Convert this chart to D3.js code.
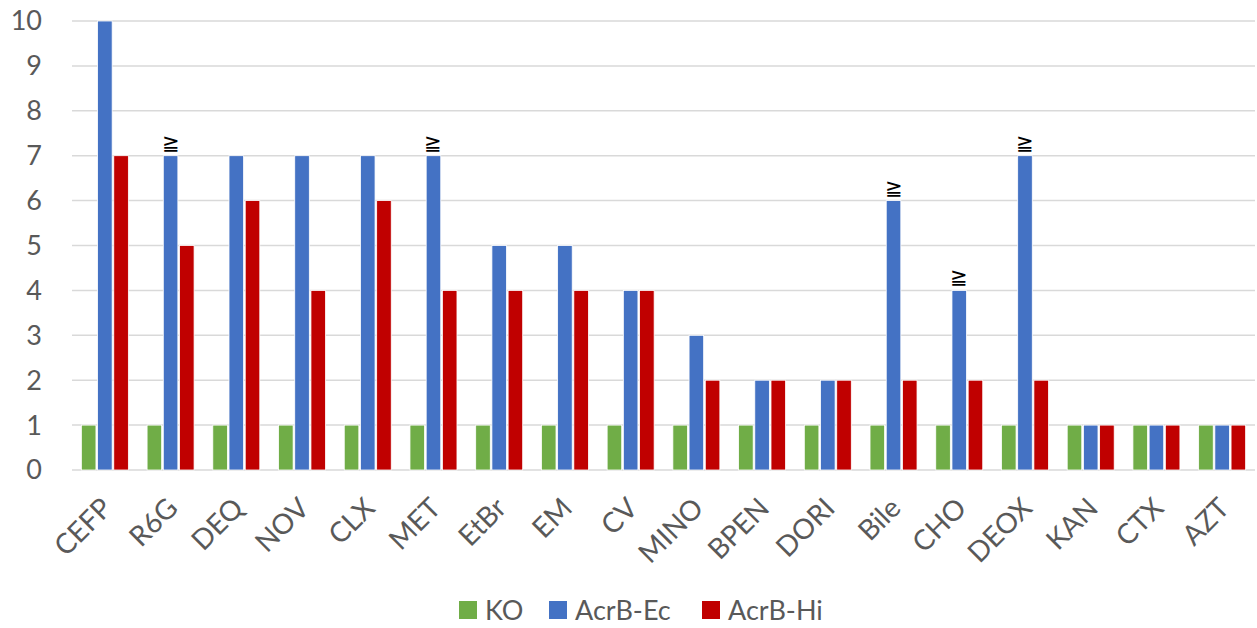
<!DOCTYPE html>
<html><head><meta charset="utf-8">
<script src="https://cdn.jsdelivr.net/npm/d3@7"></script>
<style>body{margin:0;background:#fff}svg{display:block}text{font-family:Lato,"Open Sans",sans-serif}</style>
</head><body><svg id="c" width="1257" height="628"></svg>
<script>
const categories=["CEFP","R6G","DEQ","NOV","CLX","MET","EtBr","EM","CV","MINO","BPEN","DORI","Bile","CHO","DEOX","KAN","CTX","AZT"];
const seriesNames=["KO","AcrB-Ec","AcrB-Hi"];
const koValues=[1,1,1,1,1,1,1,1,1,1,1,1,1,1,1,1,1,1];
const ecValues=[10,7,7,7,7,7,5,5,4,3,2,2,6,4,7,1,1,1];
const hiValues=[7,5,6,4,6,4,4,4,4,2,2,2,2,2,2,1,1,1];
const geMarks=["R6G","MET","Bile","CHO","DEOX"];
const yTicks=[0,1,2,3,4,5,6,7,8,9,10];
const colors=["#70AD47","#4472C4","#C00000"];

const svg=d3.select("#c");
const L=72,R=1255,T=21,B=470;
const x=d3.scaleBand().domain(categories).range([L,R]);
const y=d3.scaleLinear().domain([0,10]).range([B,T]);
const inner=d3.scaleBand().domain(seriesNames).range([-23.5,23.5]).paddingInner(0.1);

svg.append("g").selectAll("line").data(yTicks).join("line")
 .attr("x1",L).attr("x2",R).attr("y1",d=>y(d)).attr("y2",d=>y(d))
 .attr("stroke","#D9D9D9").attr("stroke-width",1.5);

svg.append("g").selectAll("text").data(yTicks).join("text")
 .attr("x",42).attr("y",d=>y(d)).attr("dy","0.35em").attr("text-anchor","end")
 .attr("font-size",27).attr("fill","#595959").text(d=>d);

const data=[koValues,ecValues,hiValues];
data.forEach((vals,si)=>{
  svg.append("g").selectAll("rect").data(categories).join("rect")
   .attr("x",(c)=>x(c)+x.bandwidth()/2+inner(seriesNames[si]))
   .attr("width",inner.bandwidth())
   .attr("y",(c,i)=>y(vals[i]))
   .attr("height",(c,i)=>y(0)-y(vals[i]))
   .attr("fill",colors[si]).attr("stroke","#fff").attr("stroke-width",0.8);
});

svg.append("g").selectAll("text").data(geMarks).join("text")
 .attr("x",c=>x(c)+x.bandwidth()/2+inner("AcrB-Ec")+inner.bandwidth()/2)
 .attr("y",c=>y(ecValues[categories.indexOf(c)])-6)
 .attr("text-anchor","middle").attr("font-size",21).attr("fill","#000").text("≧");

svg.append("g").selectAll("text").data(categories).join("text")
 .attr("transform",c=>`translate(${x(c)+x.bandwidth()/2-5},${B+26}) rotate(-45)`)
 .attr("text-anchor","end").attr("dy","0.7em")
 .attr("font-size",28).attr("fill","#595959").text(c=>c);

const legX=[459,549,702];
const lg=svg.append("g");
seriesNames.forEach((s,i)=>{
  lg.append("rect").attr("x",legX[i]).attr("y",601).attr("width",18).attr("height",18).attr("fill",colors[i]);
  lg.append("text").attr("x",legX[i]+26).attr("y",610).attr("dy","0.36em").attr("font-size",27).attr("fill","#595959").text(s);
});
</script></body></html>
